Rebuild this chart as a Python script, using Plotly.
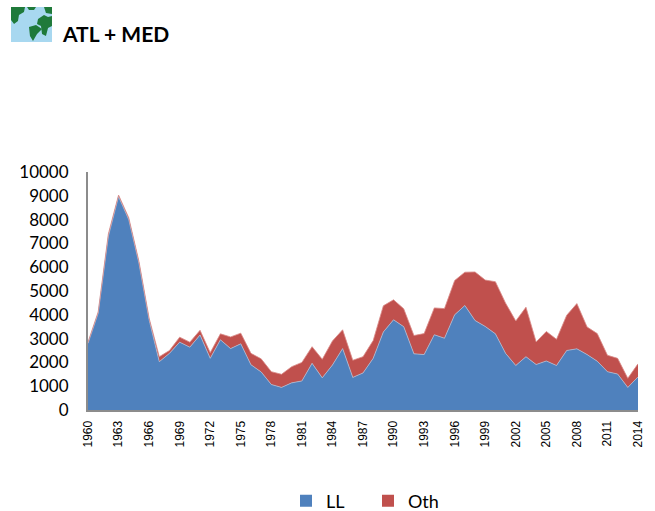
import plotly.graph_objects as go

years = list(range(1960, 2015))
LL = [2800, 4070, 7300, 8970, 8000, 6170, 3790, 2030, 2380, 2850, 2640, 3150, 2170, 2950, 2580, 2780, 1900, 1600, 1070, 950,
      1140, 1220, 1960, 1350, 1890, 2580, 1370, 1557, 2170, 3280, 3790, 3500, 2360, 2330, 3160, 3015, 4000, 4390, 3760, 3510,
      3200, 2380, 1870, 2240, 1910, 2060, 1870, 2500, 2570, 2330, 2050, 1610, 1510, 950, 1390]
Oth = [50, 50, 100, 60, 80, 80, 70, 210, 120, 210, 210, 200, 240, 250, 490, 450, 480, 550, 540, 550,
       680, 780, 700, 780, 1010, 790, 720, 683, 750, 1100, 840, 750, 770, 880, 1130, 1245, 1440, 1400, 2040, 1950,
       2190, 2110, 1870, 2080, 950, 1240, 1100, 1480, 1900, 1160, 1160, 690, 660, 380, 550]
y_ticks = list(range(0, 10001, 1000))
x_ticks = list(range(1960, 2015, 3))
title = "ATL + MED"
BLUE, RED = "#4F81BD", "#C0504D"

W, H = 655, 511
L, R, T, B = 88, 638, 172, 410
def px(x): return (x - L) / (R - L)
def py(y): return (B - y) / (B - T)
def path(pts):
    return "M" + " L".join(f"{px(x):.4f},{py(y):.4f}" for x, y in pts) + " Z"

fig = go.Figure()
fig.add_trace(go.Scatter(x=years, y=LL, stackgroup="s", mode="lines", fillcolor=BLUE,
                         line=dict(color="#A9BCD6", width=0.8), showlegend=False, hoverinfo="x+y", name="LL"))
fig.add_trace(go.Scatter(x=years, y=Oth, stackgroup="s", mode="lines", fillcolor=RED,
                         line=dict(color="#D98A88", width=0.8), showlegend=False, hoverinfo="x+y", name="Oth"))
for name, c in (("LL", BLUE), ("Oth", RED)):
    fig.add_trace(go.Scatter(x=[None], y=[None], mode="markers", name=name,
                             marker=dict(symbol="square", size=12, color=c)))

blobs = [
    [(11, 7), (25, 7), (24, 12), (19, 15), (18, 21), (14, 24), (11, 20)],
    [(27, 7), (36, 7), (34, 10), (29, 10)],
    [(29, 27), (36, 25), (42, 29), (37, 34), (33, 41), (30, 36)],
    [(38, 19), (44, 15), (48, 17), (52, 16), (52, 26), (48, 28), (46, 36), (42, 34), (41, 26), (37, 24)],
    [(44, 7), (52, 7), (52, 14), (46, 13)],
]
shapes = [dict(type="rect", xref="paper", yref="paper", x0=px(11), x1=px(52), y0=py(42), y1=py(7),
               fillcolor="#A8D8F0", line=dict(width=0), layer="above")]
for b in blobs:
    shapes.append(dict(type="path", xref="paper", yref="paper", path=path(b),
                       fillcolor="#1F7A3A", line=dict(width=0), layer="above"))

fig.update_layout(
    width=W, height=H, paper_bgcolor="white", plot_bgcolor="white",
    margin=dict(l=L, r=W - R, t=T, b=H - B, autoexpand=False),
    font=dict(family="Lato, Carlito, sans-serif", color="black"),
    shapes=shapes,
    annotations=[dict(text=f"<b>{title}</b>", xref="paper", yref="paper", x=px(60), y=py(33),
                      xanchor="left", yanchor="middle", showarrow=False,
                      font=dict(size=21, family="Lato, sans-serif", color="black"))],
    xaxis=dict(range=[1960, 2014], tickmode="array", tickvals=x_ticks, ticktext=[str(v) for v in x_ticks],
               tickangle=-90, tickfont=dict(size=12, family="Liberation Sans"), ticks="", ticklen=0,
               ticklabelstandoff=4,
               showgrid=False, zeroline=False, showline=True, linecolor="#8C8C8C", linewidth=2),
    yaxis=dict(range=[0, 10000], tickmode="array", tickvals=y_ticks, ticktext=[str(v) for v in y_ticks],
               tickfont=dict(size=17), ticks="", ticklabelstandoff=14, showgrid=False, zeroline=False,
               showline=True, linecolor="#8C8C8C", linewidth=2),
    legend=dict(orientation="h", xanchor="left", yanchor="middle", x=px(286), y=py(501),
                traceorder="normal", font=dict(size=18), entrywidth=37, entrywidthmode="pixels",
                bgcolor="rgba(0,0,0,0)", itemclick=False),
)
fig.write_html("out.html", config=dict(displayModeBar=False),
               post_script="document.body.style.margin='0';document.body.style.overflow='hidden';")
